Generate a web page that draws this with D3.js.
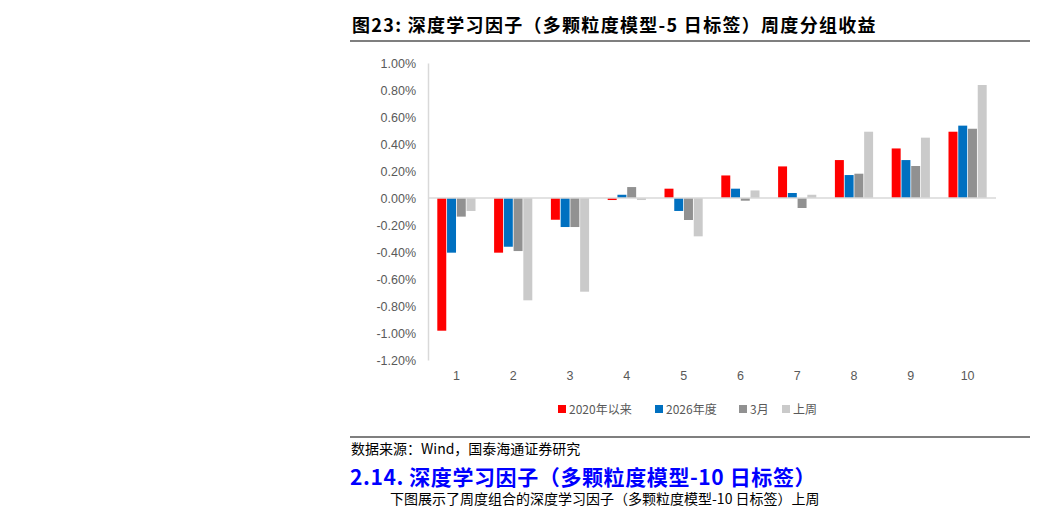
<!DOCTYPE html><html><head><meta charset="utf-8"><script src="https://cdn.jsdelivr.net/npm/d3@7"></script>
<style>body{margin:0;background:#fff}</style></head><body><svg id="c" width="1038" height="507"></svg><script>
const categories=["1","2","3","4","5","6","7","8","9","10"];
const seriesNames=["2020年以来","2026年度","3月","上周"];
const s2020=[-0.983,-0.405,-0.161,-0.015,0.069,0.167,0.234,0.281,0.367,0.491];
const s2026=[-0.405,-0.361,-0.215,0.024,-0.096,0.069,0.037,0.170,0.281,0.536];
const sMar=[-0.138,-0.393,-0.215,0.081,-0.163,-0.020,-0.074,0.180,0.237,0.513];
const sWeek=[-0.096,-0.758,-0.694,-0.015,-0.284,0.056,0.024,0.491,0.447,0.837];
const yTicks=[1.0,0.8,0.6,0.4,0.2,0,-0.2,-0.4,-0.6,-0.8,-1.0,-1.2];
const colors=["#ff0000","#0070c0","#919191","#cacaca"];
const data=[s2020,s2026,sMar,sWeek];
const svg=d3.select("#c");
const F="'Liberation Sans',Arial,sans-serif";
svg.append("text").attr("x",352).attr("y",32).attr("font-family","'Noto Sans CJK SC','Liberation Serif',serif").attr("font-weight","bold").attr("font-size",18).attr("letter-spacing",1.3).attr("fill","#000").text("图23:  深度学习因子（多颗粒度模型-5 日标签）周度分组收益");
svg.append("line").attr("x1",350).attr("x2",1030).attr("y1",41).attr("y2",41).attr("stroke","#000").attr("stroke-width",1.2);
const y=d3.scaleLinear().domain([-1.2,1.0]).range([360,63]);
const x=d3.scaleBand().domain(categories).range([428,996]).paddingInner(0.3).paddingOuter(0.15);
const xs=d3.scaleBand().domain(d3.range(4)).range([0,x.bandwidth()]).padding(0.08);
const ya=svg.append("g").attr("transform","translate(428,0)").call(d3.axisLeft(y).tickValues(yTicks).tickSize(0).tickPadding(12).tickFormat(d=>d.toFixed(2)+"%"));
ya.select(".domain").attr("stroke","#d9d9d9").attr("stroke-width",1.5);
ya.selectAll("text").attr("font-family",F).attr("font-size",12.5).attr("fill","#595959");
const g=svg.append("g");
data.forEach((arr,si)=>{g.selectAll(null).data(arr).enter().append("rect")
.attr("x",(d,i)=>x(categories[i])+xs(si)).attr("width",xs.bandwidth())
.attr("y",d=>y(Math.max(0,d))).attr("height",d=>Math.abs(y(d)-y(0))).attr("fill",colors[si]);});
svg.append("line").attr("x1",428).attr("x2",996).attr("y1",y(0)).attr("y2",y(0)).attr("stroke","#d9d9d9").attr("stroke-width",1.5);
const xa=svg.append("g").attr("transform","translate(0,360)").call(d3.axisBottom(x).tickSize(0).tickPadding(11));
xa.select(".domain").remove();
xa.selectAll("text").attr("font-family",F).attr("font-size",12.5).attr("fill","#595959");
const lx=[558,655,739,782];
seriesNames.forEach((n,i)=>{svg.append("rect").attr("x",lx[i]).attr("y",405).attr("width",8).attr("height",8).attr("fill",colors[i]);
svg.append("text").attr("x",lx[i]+11).attr("y",413.5).attr("font-family","'Noto Sans CJK SC',sans-serif").attr("font-size",12).attr("fill","#595959").text(n);});
svg.append("line").attr("x1",350).attr("x2",1030).attr("y1",437).attr("y2",437).attr("stroke","#000").attr("stroke-width",1.2);
svg.append("text").attr("x",351).attr("y",454).attr("font-family","'Noto Sans CJK SC','Liberation Serif',serif").attr("font-size",14).attr("fill","#000").text("数据来源：Wind，国泰海通证券研究");
svg.append("text").attr("x",350).attr("y",485).attr("font-family","'Noto Sans CJK SC','Liberation Serif',serif").attr("font-weight","bold").attr("font-size",21).attr("letter-spacing",0.6).attr("fill","#0000ff").text("2.14. 深度学习因子（多颗粒度模型-10 日标签）");
svg.append("text").attr("x",390).attr("y",504).attr("font-family","'Noto Sans CJK SC',serif").attr("font-size",14).attr("fill","#000").text("下图展示了周度组合的深度学习因子（多颗粒度模型-10 日标签）上周");
</script></body></html>
